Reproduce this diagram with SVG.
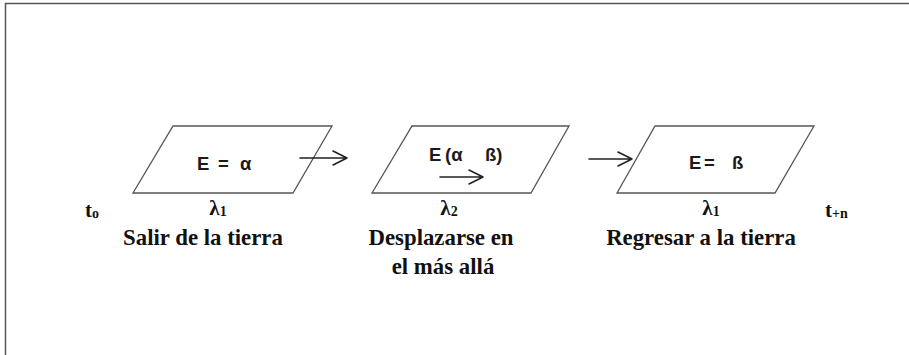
<svg xmlns="http://www.w3.org/2000/svg" width="909" height="355" viewBox="0 0 909 355">
<defs>
<style>
.frame{stroke:#555;stroke-width:1.5;fill:none}
.para{fill:#fff;stroke:#555;stroke-width:1.3}
.ein{font-family:"Liberation Sans",Arial,sans-serif;font-weight:bold;font-size:18.5px;fill:#1a1a1a}
.lbl{font-weight:bold;font-size:22.8px;fill:#111}
.lam{font-weight:bold;font-size:21px;fill:#111}
.sub{font-size:14px}
.arr{stroke:#222;stroke-width:1.6;fill:none;stroke-linecap:round;stroke-linejoin:round}
</style>
</defs>
<rect width="909" height="355" fill="#fff"/>
<path class="frame" d="M5.5,355 V3.5 H909"/>

<g id="node1">
<polygon class="para" points="173,126 332,126 293,193 133,193"/>
<text class="ein" y="170"><tspan x="197">E</tspan><tspan x="218">=</tspan><tspan x="240">α</tspan></text>
</g>

<g id="node2">
<polygon class="para" points="412,126 569,126 531,193 372,193"/>
<text class="ein" y="161"><tspan x="429">E</tspan><tspan x="445">(α</tspan><tspan x="485">ß)</tspan></text>
<path class="arr" d="M440,177 H483 M469,170 L483,177 L469,184"/>
</g>

<g id="node3">
<polygon class="para" points="655,126 814,126 775,193 617,193"/>
<text class="ein" y="169"><tspan x="689">E</tspan><tspan x="704">=</tspan><tspan x="732">ß</tspan></text>
</g>

<g id="connectors">
<path class="arr" d="M300,158 H347 M333,151 L347,158 L333,165"/>
<path class="arr" d="M589,159 H632 M618,152 L632,159 L618,166"/>
</g>

<g id="labels" font-family="Liberation Serif, Times New Roman, serif">
<text class="lam" x="85" y="217">t<tspan class="sub" dy="1">o</tspan></text>
<text class="lam" x="825" y="217">t<tspan class="sub" dy="1">+n</tspan></text>
<text class="lam" x="218" y="215" text-anchor="middle">λ<tspan class="sub" dy="1">1</tspan></text>
<text class="lam" x="449" y="215" text-anchor="middle">λ<tspan class="sub" dy="1">2</tspan></text>
<text class="lam" x="711" y="215" text-anchor="middle">λ<tspan class="sub" dy="1">1</tspan></text>
<text class="lbl" x="203" y="245" text-anchor="middle">Salir de la tierra</text>
<text class="lbl" x="441" y="245" text-anchor="middle">Desplazarse en</text>
<text class="lbl" x="443" y="274" text-anchor="middle">el más allá</text>
<text class="lbl" x="701" y="245" text-anchor="middle">Regresar a la tierra</text>
</g>
</svg>
